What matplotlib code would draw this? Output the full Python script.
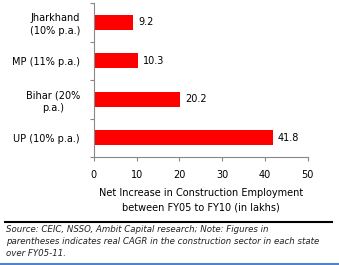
import numpy as np
import matplotlib
matplotlib.use('Agg')
import matplotlib.pyplot as plt
from matplotlib.lines import Line2D

states = ['UP (10% p.a.)', 'Bihar (20%\np.a.)', 'MP (11% p.a.)', 'Jharkhand\n(10% p.a.)']
values = [41.8, 20.2, 10.3, 9.2]
xticks = [0, 10, 20, 30, 40, 50]

plt.rcParams['font.family'] = 'DejaVu Sans'

fig = plt.figure(figsize=(3.39, 2.65), dpi=100)
ax = fig.add_axes([0.277, 0.4075, 0.631, 0.581])

pos = np.arange(len(states))
ax.barh(pos, values, height=0.4, color='#ff0000')
for p, v in zip(pos, values):
    ax.text(v + 1.2, p, f'{v}', va='center', ha='left', fontsize=7)

ax.set_xlim(0, 50)
ax.set_ylim(-0.5, 3.5)
ax.set_xticks(xticks)
ax.set_xticklabels([str(t) for t in xticks], fontsize=7)
ax.set_yticks(np.arange(-0.5, 4.0, 1.0))
ax.set_yticklabels([])
ax.set_yticks(pos, minor=True)
ax.set_yticklabels(states, minor=True, fontsize=7, linespacing=1.4,
                   multialignment='center')
ax.tick_params(axis='y', which='minor', length=0, pad=10)
ax.tick_params(axis='y', which='major', length=3, color='#888888', direction='out')
ax.tick_params(axis='x', length=3, color='#888888', pad=6)

for s in ['top', 'right']:
    ax.spines[s].set_visible(False)
for s in ['left', 'bottom']:
    ax.spines[s].set_color('#888888')
    ax.spines[s].set_linewidth(0.8)

ax.set_xlabel('Net Increase in Construction Employment\nbetween FY05 to FY10 (in lakhs)',
              fontsize=7, linespacing=1.6, labelpad=6)

fig.add_artist(Line2D([5 / 339, 332 / 339], [1 - 222 / 265] * 2, color='black', lw=1.5))
fig.text(6 / 339, 1 - 225 / 265,
         'Source: CEIC, NSSO, Ambit Capital research; Note: Figures in\n'
         'parentheses indicates real CAGR in the construction sector in each state\n'
         'over FY05-11.',
         fontsize=6.2, style='italic', va='top', ha='left', linespacing=1.45,
         color='#222222', transform=fig.transFigure)
# thin blue strip along the bottom edge
fig.add_artist(Line2D([0, 1], [1.5 / 265] * 2, color='#4a86c8', lw=1.5))

fig.savefig('out.png', dpi=100)
